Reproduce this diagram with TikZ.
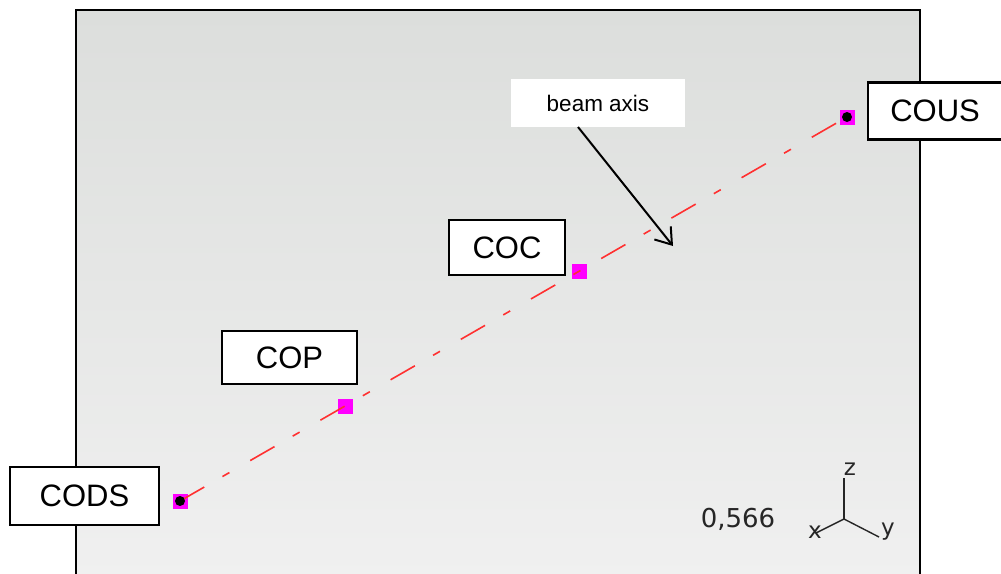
\documentclass[tikz,border=0pt]{standalone}
\usepackage{fontspec}
\setmainfont{Liberation Sans}
\newfontfamily\dvfont{DejaVu Sans}
\usetikzlibrary{arrows.meta}
\definecolor{bgtop}{HTML}{DCDEDC}
\definecolor{bgbot}{HTML}{F0F0F0}
\definecolor{pt}{HTML}{FF00FF}
\definecolor{axred}{HTML}{FF3030}
\tikzset{
  lbl/.style={draw=black, line width=2.2pt, fill=white, inner sep=0pt, font=\fontsize{31}{31}\selectfont},
  mark sq/.style={fill=pt, minimum size=15pt, inner sep=0pt},
  triad/.style={line width=1.4pt, black!85},
  tri txt/.style={font=\dvfont\fontsize{23}{23}\selectfont, inner sep=0pt, text=black!85},
}
\begin{document}
\begin{tikzpicture}[x=1pt,y=-1pt]
\useasboundingbox (0,0) rectangle (1001,573);
% background panel
\fill[top color=bgtop, bottom color=bgbot] (76,10) rectangle (920,580);
\draw[line width=2pt] (76,580) -- (76,10) -- (920,10) -- (920,580);
% points
\node[mark sq] (pcods) at (180,501) {};
\node[mark sq] (pcop) at (345,406) {};
\node[mark sq] (pcoc) at (579.5,271) {};
\node[mark sq] (pcous) at (847,117) {};
% beam axis line
\draw[axred, line width=1.6pt, dash pattern=on 28pt off 21pt on 8pt off 24pt] (pcods.center) -- (pcous.center);
\fill[black] (pcods.center) circle (5);
\fill[black] (pcous.center) circle (5);
% labels
\node[lbl, minimum width=149pt, minimum height=58pt] (cods) at (84.5,496) {CODS};
\node[lbl, minimum width=135pt, minimum height=53pt] (cop) at (289.5,357.5) {COP};
\node[lbl, minimum width=116pt, minimum height=55pt] (coc) at (507,247.5) {COC};
\node[lbl, minimum width=134pt, minimum height=57pt, anchor=west] (cous) at (867,111) {COUS};
% beam axis callout
\node[fill=white, minimum width=174pt, minimum height=48pt, inner sep=0pt, font=\fontsize{22.5}{22.5}\selectfont] (beam) at (598,103) {beam axis};
\coordinate (tip) at (673,246);
\draw[line width=2pt, -{Straight Barb[length=15pt, width=21pt, line width=2pt]}] (578,127) -- (tip);
% scale value
\node[tri txt, font=\dvfont\fontsize{26}{26}\selectfont] (val) at (738,519) {0,566};
% triad
\coordinate (o) at (844,519);
\coordinate (zend) at (844,478);
\coordinate (xend) at (816,533);
\coordinate (yend) at (879,537);
\draw[triad] (o) -- (zend);
\draw[triad] (o) -- (xend);
\draw[triad] (o) -- (yend);
\node[tri txt] (zl) at (850,469) {z};
\node[tri txt] (xl) at (815,532) {x};
\node[tri txt] (yl) at (888,532) {y};
\end{tikzpicture}
\end{document}
